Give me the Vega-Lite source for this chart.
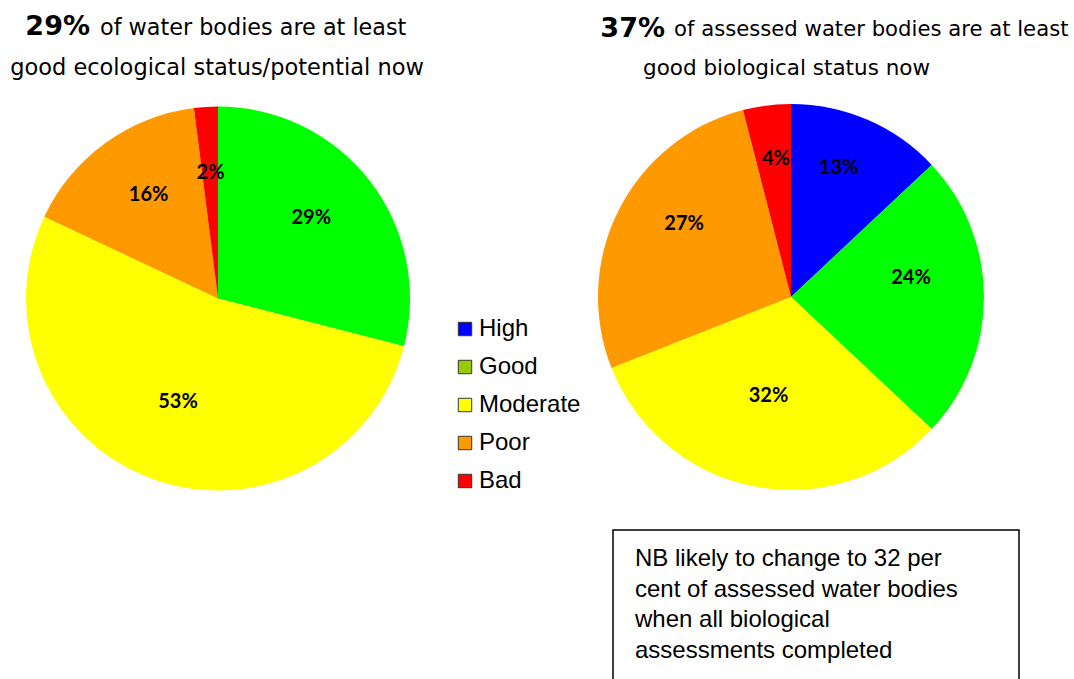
{
  "$schema": "https://vega.github.io/schema/vega-lite/v6.json",
  "padding": 0,
  "background": "white",
  "spacing": 72,
  "config": {"view": {"stroke": null}},
  "datasets": {
    "eco": [
      {"status": "Good", "k": 2, "pct": 29, "label": "29%"},
      {"status": "Moderate", "k": 3, "pct": 53, "label": "53%"},
      {"status": "Poor", "k": 4, "pct": 16, "label": "16%"},
      {"status": "Bad", "k": 5, "pct": 2, "label": "2%"}
    ],
    "bio": [
      {"status": "High", "k": 1, "pct": 13, "label": "13%"},
      {"status": "Good", "k": 2, "pct": 24, "label": "24%"},
      {"status": "Moderate", "k": 3, "pct": 32, "label": "32%"},
      {"status": "Poor", "k": 4, "pct": 27, "label": "27%"},
      {"status": "Bad", "k": 5, "pct": 4, "label": "4%"}
    ]
  },
  "resolve": {"scale": {"color": "shared"}},
  "hconcat": [
    {
      "width": 436,
      "height": 597,
      "layer": [
        {
          "data": {"name": "bio"},
          "mark": {"type": "point", "filled": true, "size": 4, "shape": "square"},
          "encoding": {
            "fill": {
              "field": "status", "type": "nominal",
              "scale": {"domain": ["High", "Good", "Moderate", "Poor", "Bad"], "range": ["#0000ff", "#99cc00", "#ffff00", "#ff9900", "#ff0000"]},
              "legend": {
                "orient": "none", "legendX": 453, "legendY": 317, "title": null,
                "symbolType": "square", "symbolSize": 180, "symbolStrokeColor": "#333333", "symbolStrokeWidth": 1,
                "labelFont": "Liberation Sans", "labelFontSize": 24, "labelColor": "black",
                "rowPadding": 14, "labelOffset": 2, "symbolOpacity": 1
              }
            }
          }
        },
        {
          "data": {"name": "eco"},
          "mark": {"type": "arc", "radius": 192},
          "encoding": {
            "theta": {"field": "pct", "type": "quantitative", "stack": true},
            "order": {"field": "k", "type": "quantitative"},
            "color": {
              "field": "status", "type": "nominal",
              "scale": {"domain": ["High", "Good", "Moderate", "Poor", "Bad"], "range": ["#0000ff", "#00ff00", "#ffff00", "#ff9900", "#ff0000"]},
              "legend": null
            }
          }
        },
        {
          "data": {"name": "eco"},
          "mark": {"type": "text", "radius": 118, "dy": -8, "font": "Lato", "fontSize": 20, "fontWeight": "bold", "color": "black"},
          "encoding": {
            "theta": {"field": "pct", "type": "quantitative", "stack": true},
            "order": {"field": "k", "type": "quantitative"},
            "text": {"field": "label", "type": "nominal"}
          }
        },
        {
          "data": {"values": [{"t": "29%"}]},
          "mark": {"type": "text", "x": 90, "y": 27, "align": "right", "baseline": "middle", "font": "DejaVu Sans", "fontSize": 27, "fontWeight": "bold", "color": "black"},
          "encoding": {"text": {"field": "t", "type": "nominal"}}
        },
        {
          "data": {"values": [{"t": "of water bodies are at least"}]},
          "mark": {"type": "text", "x": 100, "y": 28, "align": "left", "baseline": "middle", "font": "DejaVu Sans", "fontSize": 22.3, "color": "black"},
          "encoding": {"text": {"field": "t", "type": "nominal"}}
        },
        {
          "data": {"values": [{"t": "good ecological status/potential now"}]},
          "mark": {"type": "text", "x": 217, "y": 68, "align": "center", "baseline": "middle", "font": "DejaVu Sans", "fontSize": 22.5, "color": "black"},
          "encoding": {"text": {"field": "t", "type": "nominal"}}
        }
      ]
    },
    {
      "width": 566,
      "height": 594,
      "layer": [
        {
          "data": {"name": "bio"},
          "mark": {"type": "arc", "radius": 193},
          "encoding": {
            "theta": {"field": "pct", "type": "quantitative", "stack": true},
            "order": {"field": "k", "type": "quantitative"},
            "color": {
              "field": "status", "type": "nominal",
              "scale": {"domain": ["High", "Good", "Moderate", "Poor", "Bad"], "range": ["#0000ff", "#00ff00", "#ffff00", "#ff9900", "#ff0000"]},
              "legend": null
            }
          }
        },
        {
          "data": {"name": "bio"},
          "mark": {"type": "text", "radius": 120, "dy": -19, "font": "Lato", "fontSize": 20, "fontWeight": "bold", "color": "black"},
          "encoding": {
            "theta": {"field": "pct", "type": "quantitative", "stack": true},
            "order": {"field": "k", "type": "quantitative"},
            "text": {"field": "label", "type": "nominal"}
          }
        },
        {
          "data": {"values": [{"t": "37%"}]},
          "mark": {"type": "text", "x": 157, "y": 29, "align": "right", "baseline": "middle", "font": "DejaVu Sans", "fontSize": 27, "fontWeight": "bold", "color": "black"},
          "encoding": {"text": {"field": "t", "type": "nominal"}}
        },
        {
          "data": {"values": [{"t": "of assessed water bodies are at least"}]},
          "mark": {"type": "text", "x": 166, "y": 30, "align": "left", "baseline": "middle", "font": "DejaVu Sans", "fontSize": 21.2, "color": "black"},
          "encoding": {"text": {"field": "t", "type": "nominal"}}
        },
        {
          "data": {"values": [{"t": "good biological status now"}]},
          "mark": {"type": "text", "x": 135, "y": 69, "align": "left", "baseline": "middle", "font": "DejaVu Sans", "fontSize": 21.5, "color": "black"},
          "encoding": {"text": {"field": "t", "type": "nominal"}}
        },
        {
          "data": {"values": [{}]},
          "mark": {"type": "rect", "x": 105, "x2": 511, "y": 530, "y2": 700, "fill": "white", "stroke": "black", "strokeWidth": 1.5},
          "encoding": {}
        },
        {
          "data": {"values": [{}]},
          "mark": {"type": "text", "x": 127, "y": 566, "align": "left", "baseline": "alphabetic", "font": "Liberation Sans", "fontSize": 24, "lineHeight": 30.5, "color": "black",
            "text": ["NB likely to change to 32 per", "cent of assessed water bodies", "when all biological", "assessments completed"]},
          "encoding": {}
        }
      ]
    }
  ]
}
